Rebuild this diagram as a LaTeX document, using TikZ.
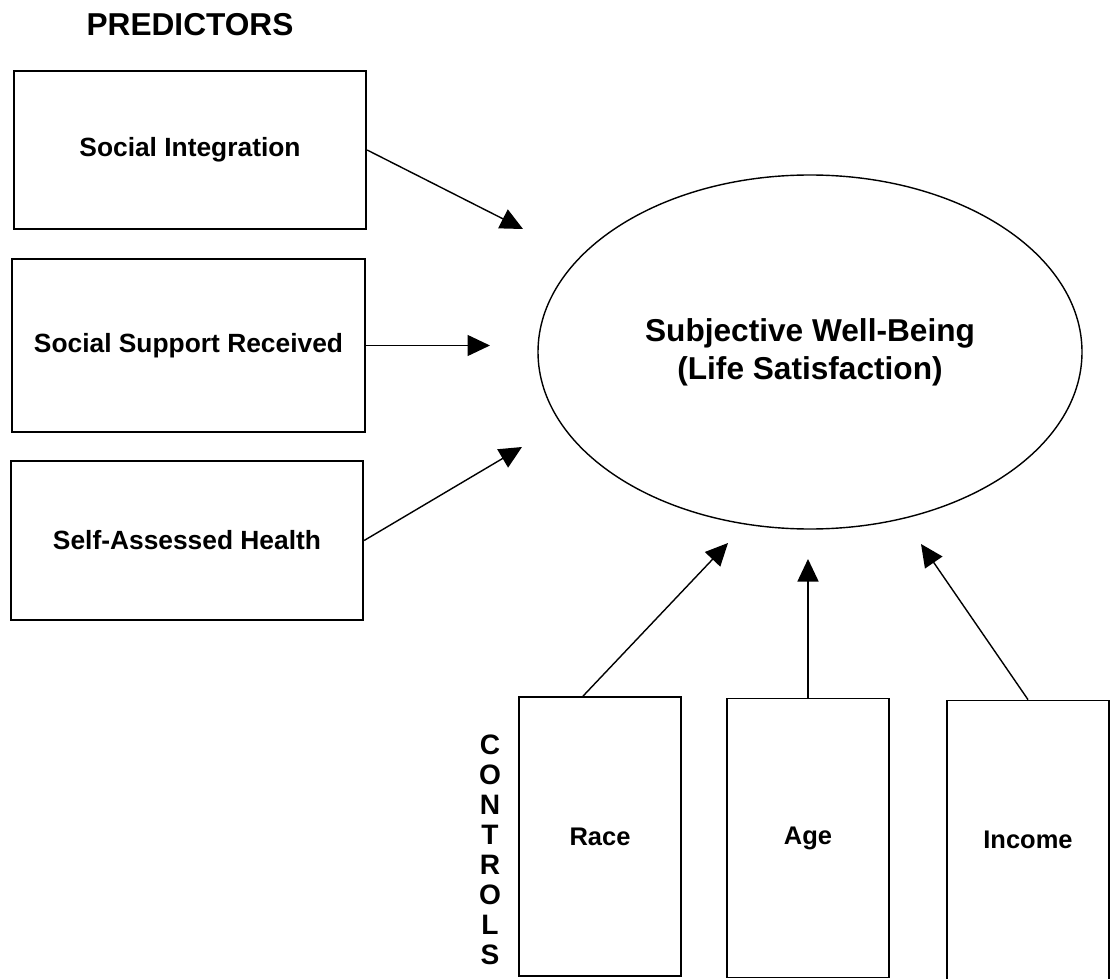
\documentclass[tikz,border=0pt]{standalone}
\usepackage{fontspec}
\setmainfont{Liberation Sans}
\usepackage{tikz}
\usetikzlibrary{shapes.geometric, arrows.meta, positioning, calc}
\tikzset{
    predictor/.style={
        rectangle,
        draw=black,
        line width=1pt,
        minimum width=7.05cm,
        fill=white,
        font=\fontsize{15}{17}\selectfont\bfseries
    },
    control/.style={
        rectangle,
        draw=black,
        line width=1pt,
        minimum width=3.24cm,
        minimum height=5.58cm,
        fill=white,
        font=\fontsize{14.5}{17}\selectfont\bfseries
    },
    outcome/.style={
        ellipse,
        draw=black,
        line width=0.8pt,
        minimum width=10.88cm,
        minimum height=7.08cm,
        inner sep=0pt,
        align=center,
        font=\fontsize{18}{21.6}\selectfont\bfseries
    },
    heading/.style={
        font=\fontsize{18}{21}\selectfont\bfseries
    },
    wire/.style={
        draw=black,
        line width=0.8pt,
        -{Triangle[length=0.45cm,width=0.42cm]}
    }
}
\begin{document}
\begin{tikzpicture}

\useasboundingbox (0,0) rectangle (22.2,-19.58);

\node[heading] (pred) at (3.8,-0.5) {PREDICTORS};

\node[predictor, minimum height=3.16cm] (si) at (3.8,-3.0) {Social Integration};
\node[predictor, minimum height=3.46cm] (ssr) at (3.77,-6.91) {Social Support Received};
\node[predictor, minimum height=3.18cm] (sah) at (3.74,-10.81) {Self-Assessed Health};

\node[outcome] (swb) at (16.2,-7.04) {Subjective Well-Being\\(Life Satisfaction)};

\node[control] (race) at (12.0,-16.73) {Race};
\node[control] (age) at (16.16,-16.76) {Age};
\node[control] (income) at (20.56,-16.8) {Income};

\node[heading, font=\fontsize{16}{17.1}\selectfont\bfseries, align=center] (ctrl) at (9.8,-17.0) {C\\O\\N\\T\\R\\O\\L\\S};

% arrow tips stop short of the ellipse
\coordinate (t1) at (10.46,-4.58);
\coordinate (t2) at (9.8,-6.91);
\coordinate (t3) at (10.44,-8.94);
\coordinate (t4) at (14.56,-10.86);
\coordinate (t5) at (16.16,-11.18);
\coordinate (t6) at (18.42,-10.88);

\draw[wire] (si.east) -- (t1);
\draw[wire] (ssr.east) -- (t2);
\draw[wire] (sah.east) -- (t3);
\draw[wire] ($(race.north)+(-0.34,0)$) -- (t4);
\draw[wire] (age.north) -- (t5);
\draw[wire] (income.north) -- (t6);

\end{tikzpicture}
\end{document}
